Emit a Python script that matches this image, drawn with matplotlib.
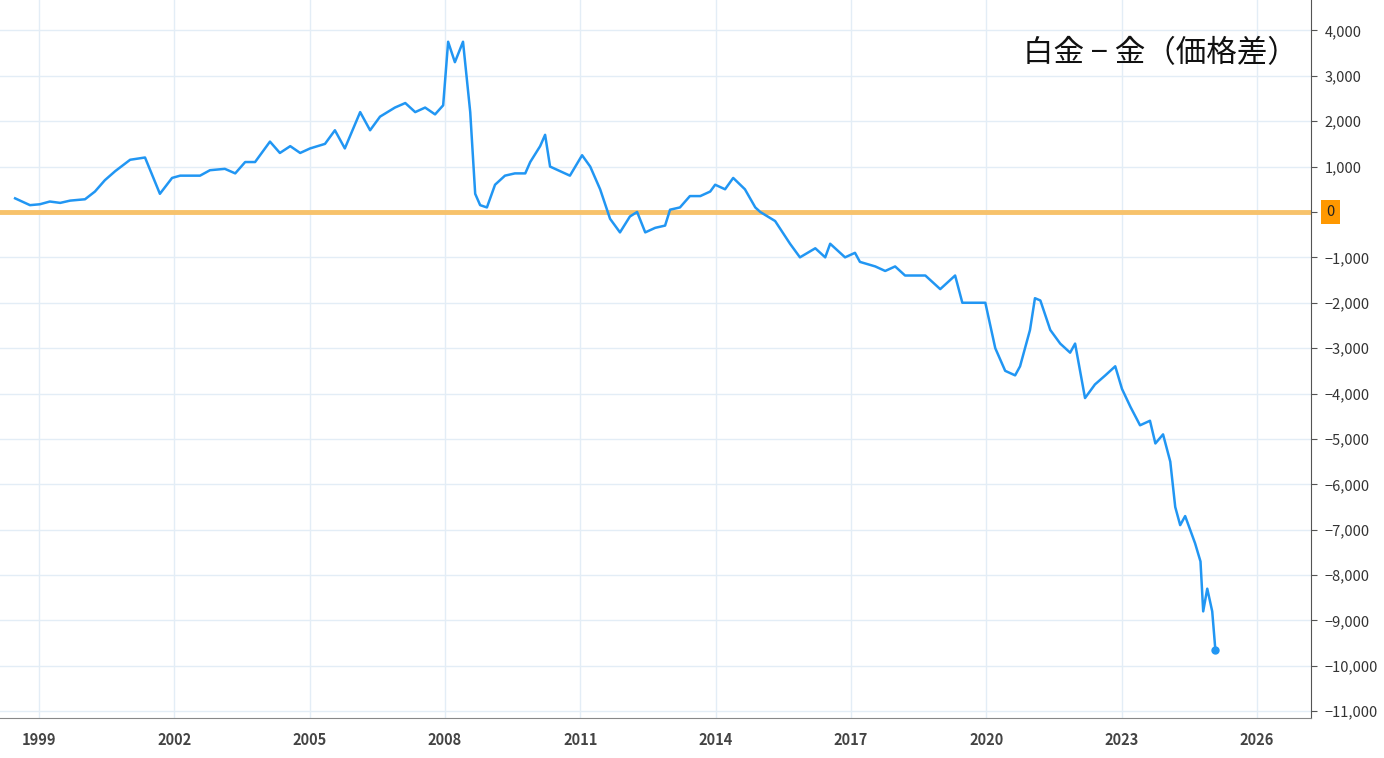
import matplotlib
matplotlib.use("Agg")
import matplotlib.pyplot as plt
from matplotlib.ticker import FuncFormatter

plt.rcParams["font.family"] = ["Noto Sans CJK JP", "DejaVu Sans"]

# platinum minus gold spread
years = [1998.47, 1998.8, 1999.02, 1999.24, 1999.47, 1999.69, 2000.02, 2000.24, 2000.46,
         2000.69, 2001.02, 2001.35, 2001.68, 2001.95, 2002.13, 2002.57, 2002.79, 2003.12,
         2003.35, 2003.57, 2003.79, 2004.12, 2004.34, 2004.57, 2004.79, 2005.01, 2005.34,
         2005.56, 2005.78, 2006.12, 2006.34, 2006.56, 2006.89, 2007.12, 2007.34, 2007.56,
         2007.78, 2007.96, 2008.07, 2008.22, 2008.4, 2008.56, 2008.67, 2008.78, 2008.93,
         2009.11, 2009.33, 2009.55, 2009.78, 2009.89, 2010.11, 2010.22, 2010.33, 2010.55,
         2010.77, 2011.04, 2011.22, 2011.44, 2011.66, 2011.88, 2012.1, 2012.26, 2012.44,
         2012.66, 2012.88, 2012.99, 2013.21, 2013.43, 2013.66, 2013.88, 2013.99, 2014.21,
         2014.39, 2014.65, 2014.88, 2014.99, 2015.32, 2015.65, 2015.87, 2016.21, 2016.43,
         2016.54, 2016.87, 2017.09, 2017.2, 2017.54, 2017.76, 2017.98, 2018.2, 2018.65,
         2018.98, 2019.2, 2019.31, 2019.47, 2019.75, 2019.98, 2020.2, 2020.42, 2020.64,
         2020.75, 2020.97, 2021.08, 2021.2, 2021.42, 2021.64, 2021.86, 2021.97, 2022.19,
         2022.41, 2022.64, 2022.75, 2022.86, 2023.01, 2023.2, 2023.41, 2023.63, 2023.75,
         2023.92, 2024.08, 2024.19, 2024.3, 2024.41, 2024.63, 2024.75, 2024.81, 2024.9,
         2025.01, 2025.08]
spread = [300, 150, 170, 230, 200, 250, 280, 450, 700,
          900, 1150, 1200, 400, 750, 800, 800, 920, 950,
          850, 1100, 1100, 1550, 1300, 1450, 1300, 1400, 1500,
          1800, 1400, 2200, 1800, 2100, 2300, 2400, 2200, 2300,
          2150, 2350, 3750, 3300, 3750, 2200, 400, 150, 100,
          600, 800, 850, 850, 1100, 1450, 1700, 1000, 900,
          800, 1250, 1000, 500, -150, -450, -100, 0, -450,
          -350, -300, 50, 100, 350, 350, 450, 600, 500,
          750, 500, 100, 0, -200, -700, -1000, -800, -1000,
          -700, -1000, -900, -1100, -1200, -1300, -1200, -1400, -1400,
          -1700, -1500, -1400, -2000, -2000, -2000, -3000, -3500, -3600,
          -3400, -2600, -1900, -1950, -2600, -2900, -3100, -2900, -4100,
          -3800, -3600, -3500, -3400, -3900, -4300, -4700, -4600, -5100,
          -4900, -5500, -6500, -6900, -6700, -7300, -7700, -8800, -8300,
          -8800, -9650]
year_ticks = [1999, 2002, 2005, 2008, 2011, 2014, 2017, 2020, 2023, 2026]
value_ticks = list(range(-11000, 4001, 1000))

fig = plt.figure(figsize=(13.84, 7.58), dpi=100)
ax = fig.add_axes([0, 0.053, 1311 / 1384, 0.947])

grid_c = "#e3edf6"
ax.grid(True, color=grid_c, linewidth=1)
ax.plot(years, spread, color="#2196f3", linewidth=1.8, zorder=3)
ax.plot(years[-1], spread[-1], "o", color="#2196f3", markersize=5, zorder=4)
ax.axhline(0, color="#f7c26b", linewidth=3.5, zorder=2)

ax.set_xlim(1998.135, 2027.2)
ax.set_ylim(-11145, 4670)
ax.set_xticks(year_ticks)
ax.set_yticks(value_ticks)
ax.yaxis.tick_right()
ax.yaxis.set_major_formatter(FuncFormatter(
    lambda v, p: "" if v == 0 else f"{int(v):,}".replace("-", "\u2212")))
ax.tick_params(axis="y", length=4, color="#555555", labelsize=10.5, labelcolor="#333333", pad=6)
ax.tick_params(axis="x", length=0, labelsize=10.5, labelcolor="#444444", pad=10)
for lbl in ax.get_xticklabels():
    lbl.set_fontweight("bold")

for side in ("top", "left"):
    ax.spines[side].set_visible(False)
ax.spines["right"].set_color("#555555")
ax.spines["bottom"].set_color("#888888")

ax.annotate("0", xy=(1.0, 0), xycoords=("axes fraction", "data"), xytext=(14, 0),
            textcoords="offset points", ha="center", va="center", fontsize=10.5,
            color="#222222",
            bbox=dict(boxstyle="square,pad=0.35", fc="#ff9800", ec="none"))

ax.text(2026.9, 3500, "白金 − 金（価格差）", ha="right", va="center", fontsize=22,
        color="#111111")

fig.savefig("out.png")
